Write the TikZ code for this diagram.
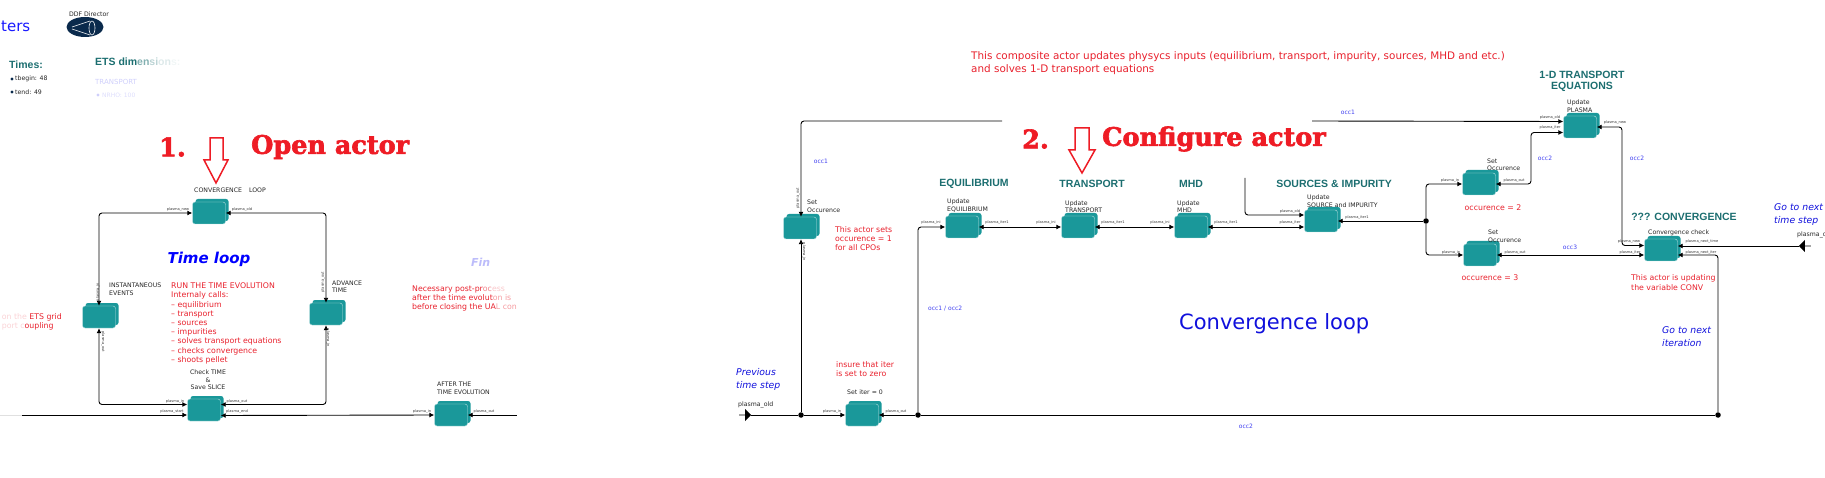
\documentclass[tikz,border=0pt]{standalone}
\usepackage{fontspec}
\setmainfont{DejaVu Sans}
\newfontfamily\headfont{Liberation Sans}
\newfontfamily\titlefont[BoldFeatures={FakeBold=2.5}]{DejaVu Serif}
\usetikzlibrary{arrows.meta,shadows,shapes.arrows}
\definecolor{actorteal}{HTML}{1A989A}
\definecolor{headteal}{HTML}{1C6E70}
\definecolor{notered}{HTML}{E8202C}
\definecolor{calloutred}{HTML}{EE1C25}
\definecolor{loopblue}{HTML}{1010DC}
\definecolor{occblue}{HTML}{4040F0}
\definecolor{navy}{HTML}{0A2A4C}
\newcommand{\pp}{plasma\_}
\tikzset{
  >={Latex[length=5pt,width=5pt]},
  actor/.style={fill=actorteal,draw=white!70!actorteal,line width=.4pt,rounded corners=2.5pt,
    minimum width=33pt,minimum height=22pt,inner sep=0pt,
    copy shadow={shadow xshift=3pt,shadow yshift=3pt,fill=actorteal,draw=none}},
  wire/.style={line width=.9pt,rounded corners=3pt},
  dot/.style={circle,fill=black,inner sep=0pt,minimum size=5.5pt},
  lbl/.style={font=\fontsize{6.2}{7.5}\selectfont,inner sep=0pt,align=left,anchor=west,text=black!85},
  port/.style={font=\fontsize{3.6}{4}\selectfont,inner sep=0pt,text=black!80},
  note/.style={font=\fontsize{7.8}{9.2}\selectfont,inner sep=0pt,align=left,anchor=west,text=notered},
  occ/.style={font=\fontsize{6}{7}\selectfont,inner sep=0pt,text=occblue},
  head/.style={font=\headfont\bfseries\fontsize{10.5}{11}\selectfont,inner sep=0pt,text=headteal},
  bigred/.style={font=\titlefont\bfseries\fontsize{25.5}{27}\selectfont,inner sep=0pt,text=calloutred,anchor=west},
  golbl/.style={font=\itshape\fontsize{9.3}{13}\selectfont,inner sep=0pt,align=left,anchor=west,text=loopblue},
  hollow/.style={draw=calloutred,line width=1.5pt,fill=white,line join=miter},
  plug/.style={single arrow,fill=black,inner sep=0pt,minimum height=12pt,minimum width=12pt,
    single arrow head extend=3pt},
}
\begin{document}
\begin{tikzpicture}[x=1pt,y=-1pt]
  \path[use as bounding box,clip] (0,0) rectangle (1825,478);

  % actors
  \foreach \name/\xx/\yy in {conv/209/213, inst/99/317, adv/326/314, chk/204/410, after/451/415,
      setocc/800/228, setiter/862/415, upeq/962/227, uptr/1078/227, upmhd/1191/227,
      upsrc/1321/221, settwo/1479/184, setthree/1480/255, upplasma/1580/127, convchk/1661/250}{
    \node[actor] (\name) at (\xx,\yy) {};
  }

  % free ends and junctions
  \node[dot] (jA) at (801,415) {};
  \node[dot] (jB) at (918,415) {};
  \node[dot] (jC) at (1718,415) {};
  \node[dot] (fork) at (1426,221) {};
  \node[plug] (plasmain) at (745,415) {};
  \node[plug,shape border rotate=180] (plasmaout) at (1805,246) {};
  \coordinate (gapA) at (1002,121);
  \coordinate (gapB) at (1312,121);
  \coordinate (srctop) at (1245,178);
  \coordinate (bendA) at (1531,158);
  \coordinate (bendB) at (1622,190);
  \coordinate (fadein) at (0,415);
  \coordinate (leftin) at (22,415);
  \coordinate (rightout) at (517,415);

  % time loop
  \draw[wire,<->] (inst.north) |- (conv.west);
  \draw[wire,<->] (adv.north) |- (conv.east);
  \draw[wire,<->] (inst.south) |- ([yshift=5.5pt]chk.west);
  \draw[wire,<->] (adv.south) |- ([yshift=5.5pt]chk.east);
  \draw[wire,black!12] (fadein) -- (leftin);
  \draw[wire,->] (leftin) -- (leftin -| chk.west);
  \draw[wire,<->] ([yshift=-5.5pt]chk.east) -- (after.west);
  \draw[wire,<-] (after.east) -- (rightout);

  % convergence loop
  \draw[wire] (plasmain) -- (jA);
  \draw[wire,->] (jA) -- (setiter.west);
  \draw[wire,<-] (setiter.east) -- (jB);
  \draw[wire] (jB) -- (jC);
  \draw[wire,->] (jA) -- (jA |- setocc.south);
  \draw[wire,<-] (jA |- setocc.north) |- (gapA);
  \draw[wire,->] (gapB) -- ([yshift=5.5pt]upplasma.west);
  \draw[wire,->] (jB) |- (upeq.west);
  \draw[wire,<->] (upeq.east) -- (uptr.west);
  \draw[wire,<->] (uptr.east) -- (upmhd.west);
  \draw[wire,<->] (upmhd.east) -- (upmhd.east -| upsrc.west);
  \draw[wire,->] (srctop) |- ([yshift=6pt]upsrc.west);
  \draw[wire,<-] (upsrc.east) -- (fork);
  \draw[wire,->] (fork) |- (settwo.west);
  \draw[wire,->] (fork) |- (setthree.west);
  \draw[wire,<->] (settwo.east) -| (bendA) |- ([yshift=-5.5pt]upplasma.west);
  \draw[wire,<->] (upplasma.east) -| (bendB) |- ([yshift=4.5pt]convchk.west);
  \draw[wire,<->] (setthree.east) -- (setthree.east -| convchk.west);
  \draw[wire,<-] ([yshift=4pt]convchk.east) -- (plasmaout);
  \draw[wire,<-] ([yshift=-5pt]convchk.east) -| (jC);

  % port names
  \foreach \xx/\yy/\txt in {178/210/\pp new, 242/210/\pp old, 175/402/\pp in, 172/412/\pp start,
      237/402/\pp out, 237/412/\pp end, 422/412/\pp in, 484/412/\pp out,
      832/412/\pp in, 896/412/\pp out, 931/223/\pp ini, 997/223/\pp iter1,
      1046/223/\pp ini, 1113/223/\pp iter1, 1160/223/\pp ini, 1226/223/\pp iter1,
      1290/212/\pp old, 1290/223/\pp iter, 1357/218/\pp iter1,
      1450/181/\pp in, 1514/181/\pp out, 1451/253/\pp in, 1515/253/\pp out,
      1550/118/\pp old, 1550/128/\pp iter, 1615/123/\pp new,
      1629/242/\pp new, 1630/253/\pp iter, 1702/242/\pp next\_time, 1701/253/\pp next\_iter}{
    \node[port] at (\xx,\yy) {\txt};
  }
  \foreach \xx/\yy/\ang/\txt in {98/292/90/\pp in, 103/342/-90/\pp out, 323/282/90/\pp out,
      328/338/-90/\pp in, 798/198/90/\pp out, 804/252/-90/\pp in}{
    \node[port,rotate=\ang] at (\xx,\yy) {\txt};
  }

  % actor names
  \node[lbl,anchor=center,align=center] at (230,190) {CONVERGENCE\hspace{5pt} LOOP};
  \node[lbl] at (109,289) {INSTANTANEOUS\\EVENTS};
  \node[lbl] at (332,286.5) {ADVANCE\\TIME};
  \node[lbl,anchor=center,align=center] at (208,380) {Check TIME\\\&\\Save SLICE};
  \node[lbl] at (437,388.5) {AFTER THE\\TIME EVOLUTION};
  \node[lbl] at (807,206) {Set\\Occurence};
  \node[lbl] at (947,205.5) {Update\\EQUILIBRIUM};
  \node[lbl] at (1065,206.5) {Update\\TRANSPORT};
  \node[lbl] at (1177,206.5) {Update\\MHD};
  \node[lbl] at (1307,201) {Update\\SOURCE and IMPURITY};
  \node[lbl] at (1487,164.5) {Set\\Occurence};
  \node[lbl] at (1488,236) {Set\\Occurence};
  \node[lbl] at (1567,106) {Update\\PLASMA};
  \node[lbl] at (1648,233) {Convergence check};
  \node[lbl,anchor=center] at (865,392) {Set iter = 0};
  \node[lbl] at (738,405) {\pp old};
  \node[lbl] at (1797,235) {\pp out};

  % group headings
  \node[head] at (974,184) {EQUILIBRIUM};
  \node[head] at (1092,184) {TRANSPORT};
  \node[head] at (1191,184) {MHD};
  \node[head] at (1334,184) {SOURCES \& IMPURITY};
  \node[head,align=center] at (1582,81.5) {1-D TRANSPORT\\EQUATIONS};
  \node[head] at (1684,217) {??? CONVERGENCE};
  \node[head,anchor=west] at (9,65) {Times:};
  \node[head,anchor=west] at (95,62) {ETS dim\textcolor{headteal!55}{en}\textcolor{headteal!30}{si}\textcolor{headteal!15}{on}\textcolor{headteal!6}{s:}};

  % faded parameter block
  \node[lbl,font=\fontsize{6.2}{7}\selectfont] at (15,79) {tbegin: 48};
  \node[lbl,font=\fontsize{6.2}{7}\selectfont] at (15,92) {tend: 49};
  \fill[navy] (12,79) circle [radius=1.6];
  \fill[navy] (12,92) circle [radius=1.6];
  \node[lbl,font=\fontsize{7}{8}\selectfont,text=occblue!25] at (95,82) {TRANSPORT};
  \node[lbl,font=\fontsize{6}{7}\selectfont,text=occblue!18] at (102,95) {NRHO: 100};
  \fill[occblue!25] (98,95) circle [radius=1.6];
  \node[font=\fontsize{15}{17}\selectfont,inner sep=0pt,text=blue!90!white,anchor=west] at (1,26) {ters};

  % director
  \node[lbl,anchor=center] at (89,14) {DDF Director};
  \fill[navy] (85,27) ellipse [x radius=18.5,y radius=10];
  \draw[white,line width=.6pt] (72,27) -- (90,21) (72,29) -- (90,35);
  \draw[white,line width=.6pt] (92,28) ellipse [x radius=3,y radius=7];

  % notes
  \node[note] at (171,323.5) {RUN THE TIME EVOLUTION\\Internaly calls:\\-- equilibrium\\-- transport\\-- sources\\-- impurities\\-- solves transport equations\\-- checks convergence\\-- shoots pellet};
  \node[note] at (412,298.5) {Necessary post-pr\textcolor{notered!55}{oc}\textcolor{notered!25}{ess}\\after the time evolut\textcolor{notered!45}{on is}\\before closing the UA\textcolor{notered!45}{L con}};
  \node[note,anchor=east] at (62,322) {\textcolor{notered!20}{on the }ETS grid\\\textcolor{notered!20}{port c}oupling};
  \node[note] at (835,238.5) {This actor sets\\occurence = 1\\for all CPOs};
  \node[note] at (836,369) {insure that iter\\is set to zero};
  \node[note,anchor=center] at (1493,208) {occurence = 2};
  \node[note,anchor=center] at (1490,278) {occurence = 3};
  \node[note] at (1631,282.5) {This actor is updating\\the variable CONV};
  \node[note,font=\fontsize{10.4}{13}\selectfont] at (971,63.5) {This composite actor updates physycs inputs (equilibrium, transport, impurity, sources, MHD and etc.)\\and solves 1-D transport equations};

  % occurrence labels
  \node[occ] at (821,161) {occ1};
  \node[occ] at (1348,112) {occ1};
  \node[occ,anchor=west] at (928,309) {occ1 / occ2};
  \node[occ] at (1246,426) {occ2};
  \node[occ] at (1545,158) {occ2};
  \node[occ] at (1637,158) {occ2};
  \node[occ] at (1570,247) {occ3};

  % big labels
  \node[font=\bfseries\itshape\fontsize{15}{17}\selectfont,inner sep=0pt,text=blue] at (209,259) {Time loop};
  \node[font=\fontsize{21}{23}\selectfont,inner sep=0pt,text=loopblue,anchor=west] at (1179,324) {Convergence loop};
  \node[golbl] at (736,379.5) {Previous\\time step};
  \node[golbl] at (1774,214.5) {Go to next\\time step};
  \node[golbl] at (1662,336.5) {Go to next\\iteration};
  \node[font=\bfseries\itshape\fontsize{11}{12}\selectfont,inner sep=0pt,text=occblue!35,anchor=west] at (471,262) {Fin};

  % red callouts
  \node[bigred] at (159,147) {1.};
  \node[bigred] at (251,147) {Open actor};
  \draw[hollow] (210,138) -- (223,138) -- (223,160) -- (228,160) -- (216,183) -- (204,160) -- (210,160) -- cycle;
  \node[bigred] at (1022,139) {2.};
  \node[bigred] at (1102,139) {Configure actor};
  \draw[hollow] (1075,128) -- (1089,128) -- (1089,150) -- (1095,150) -- (1082,173) -- (1069,150) -- (1075,150) -- cycle;
\end{tikzpicture}
\end{document}
